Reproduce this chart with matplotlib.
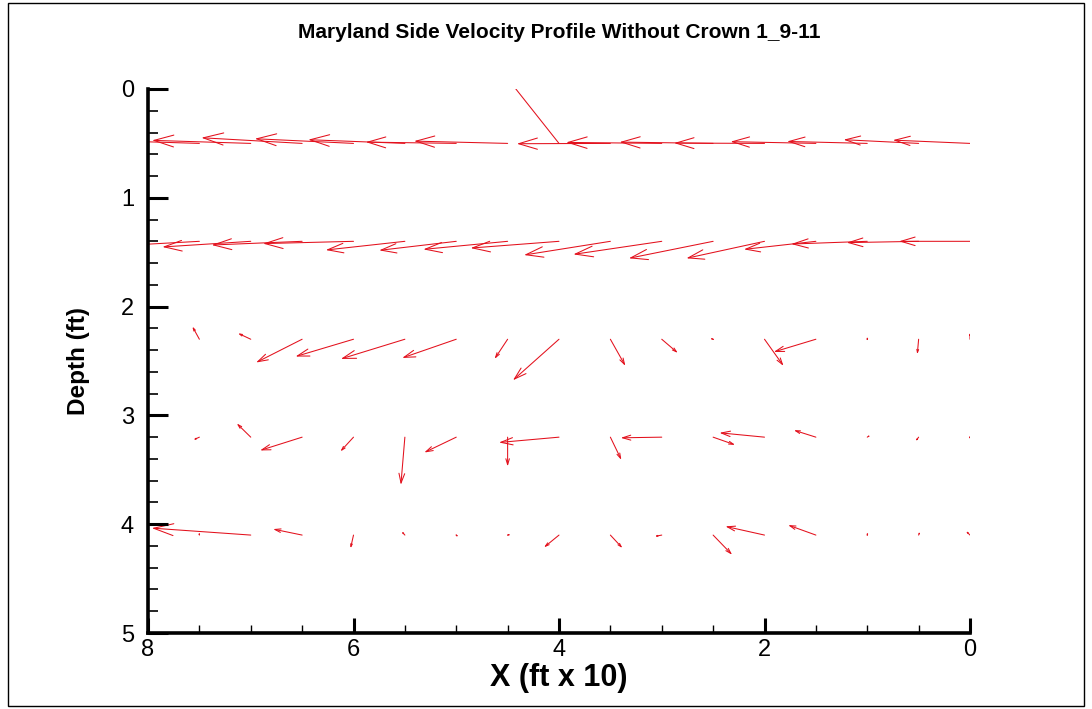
import numpy as np
import matplotlib
matplotlib.use("Agg")
import matplotlib.pyplot as plt
from matplotlib.patches import FancyArrowPatch, Rectangle

plt.rcParams['font.family'] = ['Liberation Sans', 'DejaVu Sans']

# positions of the probes (x in ft x 10, depth in ft)
x_cols = [0.0, 0.5, 1.0, 1.5, 2.0, 2.5, 3.0, 3.5, 4.0, 4.5, 5.0, 5.5, 6.0, 6.5, 7.0, 7.5]
depths = [0.5, 1.4, 2.3, 3.2, 4.1]

# velocity components, one list per depth (same units as the axes)
u_row1 = [0.75, 0.73, 0.78, 0.83, 0.88, 0.91, 0.93, 0.91, 0.68, 0.91, 0.88, 0.94, 0.96, 0.98, 0.96, 0.97]
v_row1 = [-0.030, -0.034, -0.018, -0.016, -0.003, -0.012, -0.009, 0.003, -0.81, -0.021, -0.012, -0.034, -0.043, -0.052, -0.028, -0.028]

u_row2 = [0.69, 0.70, 0.74, 0.70, 0.76, 0.82, 0.86, 0.84, 0.86, 0.82, 0.75, 0.77, 0.88, 0.88, 0.86, 0.88]
v_row2 = [0.0, 0.012, 0.025, 0.074, 0.156, 0.156, 0.120, 0.126, 0.062, 0.074, 0.083, 0.080, 0.021, 0.034, 0.052, 0.046]

u_row3 = [0.0, 0.013, 0.002, 0.41, -0.185, -0.010, -0.156, -0.146, 0.448, 0.127, 0.526, 0.623, 0.564, 0.448, 0.124, 0.068]
v_row3 = [-0.062, 0.138, 0.014, 0.117, 0.245, 0.003, 0.126, 0.245, 0.377, 0.181, 0.172, 0.181, 0.159, 0.214, -0.055, -0.117]

u_row4 = [0.002, 0.029, 0.005, 0.214, 0.438, -0.214, 0.399, -0.107, 0.584, 0.0, 0.311, 0.039, 0.127, 0.409, 0.136, 0.058]
v_row4 = [0.021, 0.037, 0.003, -0.064, -0.040, 0.071, 0.006, 0.209, 0.049, 0.269, 0.141, 0.438, 0.131, 0.122, -0.126, 0.025]

u_row5 = [0.039, 0.002, 0.002, 0.27, 0.38, -0.185, 0.068, -0.117, 0.146, 0.010, 0.010, 0.032, 0.029, 0.282, 0.963, 0.002]
v_row5 = [-0.037, 0.005, 0.012, -0.092, -0.080, 0.181, 0.012, 0.119, 0.113, 0.002, -0.009, -0.034, 0.122, -0.055, -0.064, -0.028]

u_rows = [u_row1, u_row2, u_row3, u_row4, u_row5]
v_rows = [v_row1, v_row2, v_row3, v_row4, v_row5]

fig = plt.figure(figsize=(10.92, 7.09), dpi=100)
ax = fig.add_axes([148 / 1092, 1 - 633 / 709, 822 / 1092, 544 / 709])
ax.set_xlim(8, 0)
ax.set_ylim(5, 0)

red = '#e3101c'
for d, us, vs in zip(depths, u_rows, v_rows):
    for x, u, v in zip(x_cols, us, vs):
        p0 = ax.transData.transform((x, d))
        p1 = ax.transData.transform((x + u, d + v))
        L = np.hypot(*(p1 - p0)) * 72 / fig.dpi  # length in points
        hl = max(0.2 * L, 0.5)
        arr = FancyArrowPatch((x, d), (x + u, d + v),
                              arrowstyle='->,head_length=%.3f,head_width=%.3f' % (hl, hl * 0.3),
                              mutation_scale=1, color=red, lw=0.75,
                              shrinkA=0, shrinkB=0)
        ax.add_patch(arr)

ax.set_xlim(8, 0)
ax.set_ylim(5, 0)

for s in ['top', 'right']:
    ax.spines[s].set_visible(False)
for s in ['left', 'bottom']:
    ax.spines[s].set_linewidth(2.6)

ax.set_xticks([8, 6, 4, 2, 0])
ax.set_xticks(np.arange(0, 8.01, 0.5), minor=True)
ax.set_yticks([0, 1, 2, 3, 4, 5])
ax.set_yticks(np.arange(0, 5.01, 0.2), minor=True)
ax.tick_params(axis='both', which='both', direction='in', labelsize=17)
ax.tick_params(axis='x', which='major', length=11, width=2.2, pad=4)
ax.tick_params(axis='x', which='minor', length=6, width=1.0)
ax.tick_params(axis='y', which='major', length=14.5, width=2.2, pad=10)
ax.tick_params(axis='y', which='minor', length=7.5, width=1.2)

ax.set_xlabel('X (ft x 10)', fontsize=22, fontweight='bold', labelpad=2)
ax.set_ylabel('Depth (ft)', fontsize=17.5, fontweight='bold', labelpad=22)
ax.set_title('Maryland Side Velocity Profile Without Crown 1_9-11',
             fontsize=15, fontweight='bold', pad=37)

# thin frame around the whole picture
fig.patches.append(Rectangle((0.007, 0.004), 0.986, 0.992, transform=fig.transFigure,
                             fill=False, edgecolor='black', lw=1.0))

fig.savefig('out.png', dpi=100)
